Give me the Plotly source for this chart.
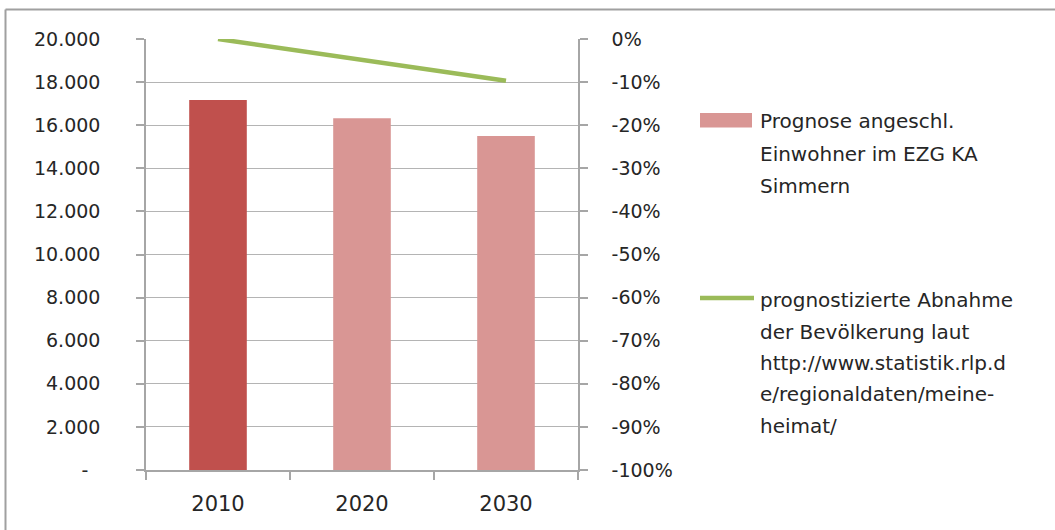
import plotly.graph_objects as go

# ---------------- data ----------------
years = ["2010", "2020", "2030"]
einwohner = [17170, 16320, 15500]
abnahme_pct = [0, -4.9, -9.7]
bar_colors = ["#C0504D", "#D99694", "#D99694"]

left_tickvals = [0, 2000, 4000, 6000, 8000, 10000, 12000, 14000, 16000, 18000, 20000]
left_ticktext = ["-\u00a0\u00a0", "2.000", "4.000", "6.000", "8.000", "10.000", "12.000",
                 "14.000", "16.000", "18.000", "20.000"]
right_tickvals = [0, -10, -20, -30, -40, -50, -60, -70, -80, -90, -100]
right_ticktext = ["0%", "-10%", "-20%", "-30%", "-40%", "-50%", "-60%", "-70%",
                  "-80%", "-90%", "-100%"]

bar_name = "Prognose angeschl. Einwohner im EZG KA Simmern"
line_name = ("prognostizierte Abnahme der Bevölkerung laut "
             "http://www.statistik.rlp.de/regionaldaten/meine-heimat/")
legend_lines_bar = ["Prognose angeschl.", "Einwohner im EZG KA", "Simmern"]
legend_lines_line = ["prognostizierte Abnahme", "der Bevölkerung laut",
                     "http://www.statistik.rlp.d", "e/regionaldaten/meine-", "heimat/"]

# ---------------- layout geometry ----------------
W, H = 1055, 530
ML, MR, MT, MB = 146, 477, 39, 60
PW, PH = W - ML - MR, H - MT - MB
FONT = "DejaVu Sans"
TXT = "#262626"
AXC = "#A6A6A6"
BAR_LEG = "#D99694"
LINE_C = "#9BBB59"


def px(x):
    return (x - ML) / PW


def py(y):
    return (H - MB - y) / PH


fig = go.Figure()
fig.add_trace(go.Bar(
    x=years, y=einwohner, name=bar_name, marker=dict(color=bar_colors, line=dict(width=0)),
    width=0.4, yaxis="y", showlegend=False,
))
fig.add_trace(go.Scatter(
    x=years, y=abnahme_pct, name=line_name, mode="lines",
    line=dict(color=LINE_C, width=4.5), yaxis="y2", showlegend=False,
))

shapes = []
annotations = []

# outer chart frame (only top and left edges are visible in the picture)
shapes.append(dict(type="line", xref="paper", yref="paper",
                   x0=px(5.5), x1=px(1056), y0=py(9.5), y1=py(9.5),
                   line=dict(color="#A0A0A0", width=2), layer="below"))
shapes.append(dict(type="line", xref="paper", yref="paper",
                   x0=px(5.5), x1=px(5.5), y0=py(9.5), y1=py(531),
                   line=dict(color="#A0A0A0", width=2), layer="below"))

# manual legend (Excel style)
shapes.append(dict(type="rect", xref="paper", yref="paper",
                   x0=px(700), x1=px(752), y0=py(127.5), y1=py(113),
                   fillcolor=BAR_LEG, line=dict(width=0)))
shapes.append(dict(type="line", xref="paper", yref="paper",
                   x0=px(700), x1=px(754), y0=py(298), y1=py(298),
                   line=dict(color=LINE_C, width=4.5)))
for i, t in enumerate(legend_lines_bar):
    annotations.append(dict(text=t, xref="paper", yref="paper", x=px(758), y=py(121 + 32.5 * i),
                            xanchor="left", yanchor="middle", showarrow=False,
                            font=dict(family=FONT, size=20, color=TXT)))
for i, t in enumerate(legend_lines_line):
    annotations.append(dict(text=t, xref="paper", yref="paper", x=px(758), y=py(300 + 31.5 * i),
                            xanchor="left", yanchor="middle", showarrow=False,
                            font=dict(family=FONT, size=20, color=TXT)))

fig.update_layout(
    width=W, height=H,
    margin=dict(l=ML, r=MR, t=MT, b=MB, pad=0),
    paper_bgcolor="white", plot_bgcolor="white",
    showlegend=False,
    bargap=0.6,
    font=dict(family=FONT, color=TXT),
    xaxis=dict(
        type="category", categoryorder="array", categoryarray=years,
        tickson="boundaries", ticks="outside", ticklen=8, tickcolor=AXC, tickwidth=1.5,
        showline=True, linecolor=AXC, linewidth=1.5, showgrid=False,
        tickfont=dict(family=FONT, size=21, color=TXT), ticklabelstandoff=14,
    ),
    yaxis=dict(
        range=[0, 20000], tickvals=left_tickvals, ticktext=left_ticktext,
        ticks="outside", ticklen=8, tickcolor=AXC, tickwidth=1.5,
        showline=True, linecolor=AXC, linewidth=1.5,
        showgrid=True, gridcolor="#B4B4B4", gridwidth=1, zeroline=False,
        tickfont=dict(family=FONT, size=19, color=TXT), ticklabelstandoff=32,
    ),
    yaxis2=dict(
        range=[-100, 0], tickvals=right_tickvals, ticktext=right_ticktext,
        overlaying="y", side="right",
        ticks="outside", ticklen=8, tickcolor=AXC, tickwidth=1.5,
        showline=True, linecolor=AXC, linewidth=1.5,
        showgrid=False, zeroline=False,
        tickfont=dict(family=FONT, size=19, color=TXT), ticklabelstandoff=20,
    ),
    shapes=shapes,
    annotations=annotations,
)

fig.write_html("out.html",
               config={"displayModeBar": False},
               post_script="document.body.style.margin='0';document.body.style.overflow='hidden';")
